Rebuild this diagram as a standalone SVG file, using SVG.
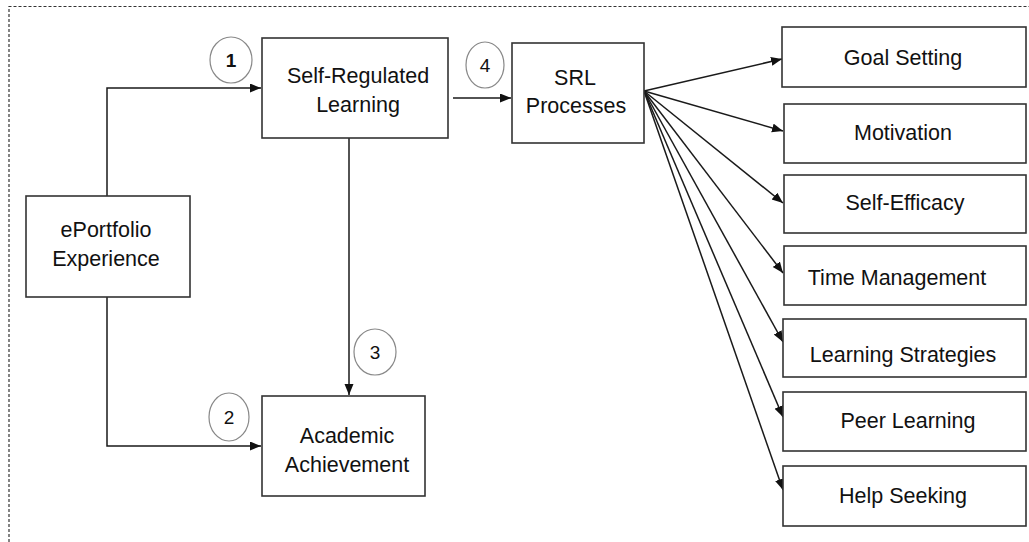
<svg xmlns="http://www.w3.org/2000/svg" width="1029" height="542" viewBox="0 0 1029 542">
  <defs>
    <marker id="arrow" markerUnits="userSpaceOnUse" markerWidth="12" markerHeight="10" refX="11" refY="4.5" orient="auto">
      <path d="M0,0 L11,4.5 L0,9 z" fill="#111"/>
    </marker>
    <style>
      .box { fill: #fff; stroke: #333; stroke-width: 1.6; }
      .lbl { font-family: "Liberation Sans", Arial, sans-serif; font-size: 21.5px; fill: #111; text-anchor: middle; }
      .num { font-family: "Liberation Sans", Arial, sans-serif; font-size: 19px; fill: #111; text-anchor: middle; }
      .badge { fill: #fff; stroke: #888; stroke-width: 1.2; }
      .conn { fill: none; stroke: #1a1a1a; stroke-width: 1.5; }
      .frame { fill: none; stroke: #333; stroke-width: 1.2; stroke-dasharray: 3 2; }
    </style>
  </defs>
  <rect width="1029" height="542" fill="#fff"/>

  <!-- dashed outer frame -->
  <path class="frame" d="M9,542 L9,6.5 L1029,6.5"/>

  <!-- connectors -->
  <g id="connectors">
    <path class="conn" d="M107,196 L107,88 L261,88" marker-end="url(#arrow)"/>
    <path class="conn" d="M107,297 L107,446 L261,446" marker-end="url(#arrow)"/>
    <path class="conn" d="M349,138 L349,395" marker-end="url(#arrow)"/>
    <path class="conn" d="M453,98 L511,98" marker-end="url(#arrow)"/>
    <path class="conn" d="M644,91 L782,59" marker-end="url(#arrow)"/>
    <path class="conn" d="M644,91 L783,131" marker-end="url(#arrow)"/>
    <path class="conn" d="M644,91 L783,203" marker-end="url(#arrow)"/>
    <path class="conn" d="M644,91 L783,273" marker-end="url(#arrow)"/>
    <path class="conn" d="M644,91 L783,342" marker-end="url(#arrow)"/>
    <path class="conn" d="M644,91 L783,417" marker-end="url(#arrow)"/>
    <path class="conn" d="M644,91 L783,490" marker-end="url(#arrow)"/>
  </g>

  <!-- numbered path badges -->
  <g id="badge-1">
    <ellipse class="badge" cx="231" cy="60" rx="21" ry="23"/>
    <text class="num" x="231" y="67" font-weight="bold">1</text>
  </g>
  <g id="badge-2">
    <ellipse class="badge" cx="229" cy="417" rx="20" ry="24"/>
    <text class="num" x="229" y="424">2</text>
  </g>
  <g id="badge-3">
    <ellipse class="badge" cx="375" cy="352" rx="21" ry="23"/>
    <text class="num" x="375" y="359">3</text>
  </g>
  <g id="badge-4">
    <ellipse class="badge" cx="485" cy="65" rx="19" ry="23"/>
    <text class="num" x="485" y="72">4</text>
  </g>

  <!-- main nodes -->
  <g id="eportfolio">
    <rect class="box" x="26" y="196" width="164" height="101"/>
    <text class="lbl" x="106" y="237">ePortfolio</text>
    <text class="lbl" x="106" y="266">Experience</text>
  </g>
  <g id="srl">
    <rect class="box" x="262" y="38" width="186" height="100"/>
    <text class="lbl" x="358" y="83">Self-Regulated</text>
    <text class="lbl" x="358" y="112">Learning</text>
  </g>
  <g id="achievement">
    <rect class="box" x="262" y="396" width="163" height="100"/>
    <text class="lbl" x="347" y="443">Academic</text>
    <text class="lbl" x="347" y="472">Achievement</text>
  </g>
  <g id="srl-processes">
    <rect class="box" x="512" y="43" width="132" height="100"/>
    <text class="lbl" x="575" y="85">SRL</text>
    <text class="lbl" x="576" y="113">Processes</text>
  </g>

  <!-- SRL process nodes -->
  <g id="goal-setting">
    <rect class="box" x="782" y="27" width="244" height="60"/>
    <text class="lbl" x="903" y="65">Goal Setting</text>
  </g>
  <g id="motivation">
    <rect class="box" x="784" y="104" width="242" height="59"/>
    <text class="lbl" x="903" y="140">Motivation</text>
  </g>
  <g id="self-efficacy">
    <rect class="box" x="784" y="175" width="242" height="58"/>
    <text class="lbl" x="905" y="210">Self-Efficacy</text>
  </g>
  <g id="time-management">
    <rect class="box" x="784" y="246" width="242" height="59"/>
    <text class="lbl" x="897" y="285">Time Management</text>
  </g>
  <g id="learning-strategies">
    <rect class="box" x="783" y="319" width="243" height="58"/>
    <text class="lbl" x="903" y="362">Learning Strategies</text>
  </g>
  <g id="peer-learning">
    <rect class="box" x="783" y="392" width="243" height="59"/>
    <text class="lbl" x="908" y="428">Peer Learning</text>
  </g>
  <g id="help-seeking">
    <rect class="box" x="783" y="466" width="243" height="60"/>
    <text class="lbl" x="903" y="503">Help Seeking</text>
  </g>
</svg>
